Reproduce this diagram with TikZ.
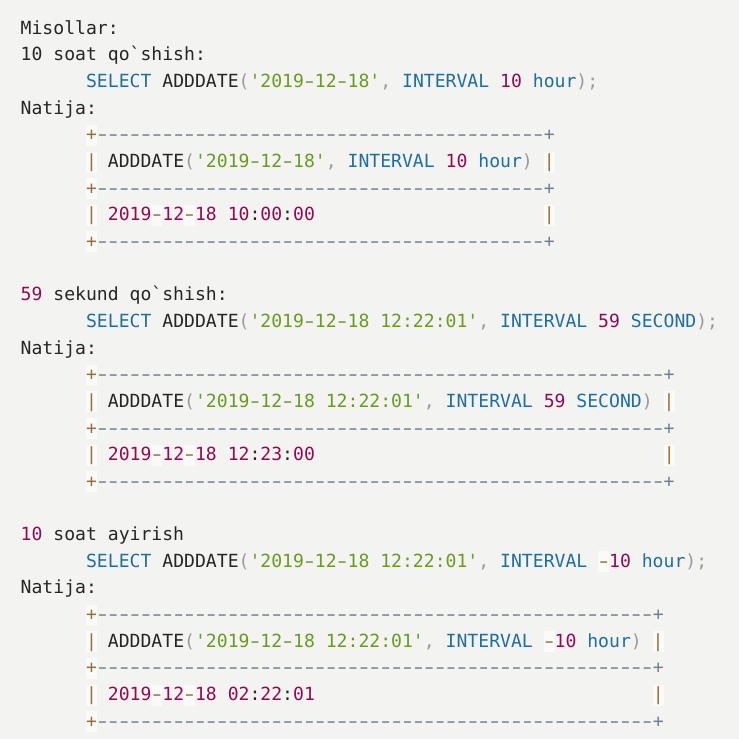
\documentclass[tikz,border=0pt]{standalone}
\usepackage{fontspec}
\setmonofont{DejaVu Sans Mono}
\usepackage{graphicx}
\usepackage{tikz}

\definecolor{bgc}{HTML}{F3F3F1}
\definecolor{txtc}{HTML}{262626}
\definecolor{kwc}{HTML}{1E6FA0}
\definecolor{strc}{HTML}{6A9A22}
\definecolor{numc}{HTML}{930A54}
\definecolor{pnc}{HTML}{9A9A9A}
\definecolor{opc}{HTML}{9A6E3A}
\definecolor{opbg}{HTML}{FAFAF9}
\definecolor{cmtc}{HTML}{708090}

\newcommand\sqlkw[1]{\textcolor{kwc}{#1}}
\newcommand\sqlstr[1]{\textcolor{strc}{#1}}
\newcommand\sqlnum[1]{\textcolor{numc}{#1}}
\newcommand\sqlpn[1]{\textcolor{pnc}{#1}}
\newcommand\sqlop[1]{{\setlength{\fboxsep}{0pt}\colorbox{opbg}{\rule[-5pt]{0pt}{21pt}\textcolor{opc}{#1}}}}
% keng chiziqcha (Menlo kabi)
\newcommand\chiz{\makebox[0.6021em][c]{\scalebox{1.5}[1]{-}}}
\newcommand\borderrow[1]{\sqlop{+}\textcolor{cmtc}{\foreach\k in {1,...,#1}{\chiz}+}}
\newcommand\sqldate[3]{\sqlnum{#1}\sqlop{\chiz}\sqlnum{#2}\sqlop{\chiz}\sqlnum{#3}}

\tikzset{ln/.style={anchor=base west, inner sep=0pt, text=txtc,
  font=\ttfamily\fontsize{18.1}{26.65}\selectfont}}

\begin{document}
\begin{tikzpicture}[x=10.9pt, y=-26.65pt]
\fill[bgc] (-1.881,-1.287) rectangle (65.92,26.44);
\useasboundingbox (-1.881,-1.287) rectangle (65.92,26.44);
% birinchi misol
\node[ln] (misol) at (0,0) {Misollar:};
\node[ln] (sarl1) at (0,1) {10 soat qo`shish:};
\node[ln] (sel1) at (6,2) {\sqlkw{SELECT} ADDDATE\sqlpn{(}\sqlstr{'2019\chiz12\chiz18'}\sqlpn{,} \sqlkw{INTERVAL} \sqlnum{10} \sqlkw{hour}\sqlpn{);}};
\node[ln] (nat1) at (0,3) {Natija:};
\node[ln] (brd1a) at (6,4) {\borderrow{41}};
\node[ln] (head1) at (6,5) {\sqlop{|} ADDDATE\sqlpn{(}\sqlstr{'2019\chiz12\chiz18'}\sqlpn{,} \sqlkw{INTERVAL} \sqlnum{10} \sqlkw{hour}\sqlpn{)} \sqlop{|}};
\node[ln] (brd1b) at (6,6) {\borderrow{41}};
\node[ln] (res1) at (6,7) {\sqlop{|} \sqldate{2019}{12}{18} \sqlnum{10}:\sqlnum{00}:\sqlnum{00}};
\node[ln] (bar1) at (48,7) {\sqlop{|}};
\node[ln] (brd1c) at (6,8) {\borderrow{41}};
% ikkinchi misol
\node[ln] (sarl2) at (0,10) {\sqlnum{59} sekund qo`shish:};
\node[ln] (sel2) at (6,11) {\sqlkw{SELECT} ADDDATE\sqlpn{(}\sqlstr{'2019\chiz12\chiz18 12:22:01'}\sqlpn{,} \sqlkw{INTERVAL} \sqlnum{59} \sqlkw{SECOND}\sqlpn{);}};
\node[ln] (nat2) at (0,12) {Natija:};
\node[ln] (brd2a) at (6,13) {\borderrow{52}};
\node[ln] (head2) at (6,14) {\sqlop{|} ADDDATE\sqlpn{(}\sqlstr{'2019\chiz12\chiz18 12:22:01'}\sqlpn{,} \sqlkw{INTERVAL} \sqlnum{59} \sqlkw{SECOND}\sqlpn{)} \sqlop{|}};
\node[ln] (brd2b) at (6,15) {\borderrow{52}};
\node[ln] (res2) at (6,16) {\sqlop{|} \sqldate{2019}{12}{18} \sqlnum{12}:\sqlnum{23}:\sqlnum{00}};
\node[ln] (bar2) at (59,16) {\sqlop{|}};
\node[ln] (brd2c) at (6,17) {\borderrow{52}};
% uchinchi misol
\node[ln] (sarl3) at (0,19) {\sqlnum{10} soat ayirish};
\node[ln] (sel3) at (6,20) {\sqlkw{SELECT} ADDDATE\sqlpn{(}\sqlstr{'2019\chiz12\chiz18 12:22:01'}\sqlpn{,} \sqlkw{INTERVAL} \sqlop{\chiz}\sqlnum{10} \sqlkw{hour}\sqlpn{);}};
\node[ln] (nat3) at (0,21) {Natija:};
\node[ln] (brd3a) at (6,22) {\borderrow{51}};
\node[ln] (head3) at (6,23) {\sqlop{|} ADDDATE\sqlpn{(}\sqlstr{'2019\chiz12\chiz18 12:22:01'}\sqlpn{,} \sqlkw{INTERVAL} \sqlop{\chiz}\sqlnum{10} \sqlkw{hour}\sqlpn{)} \sqlop{|}};
\node[ln] (brd3b) at (6,24) {\borderrow{51}};
\node[ln] (res3) at (6,25) {\sqlop{|} \sqldate{2019}{12}{18} \sqlnum{02}:\sqlnum{22}:\sqlnum{01}};
\node[ln] (bar3) at (58,25) {\sqlop{|}};
\node[ln] (brd3c) at (6,26) {\borderrow{51}};
\end{tikzpicture}
\end{document}
